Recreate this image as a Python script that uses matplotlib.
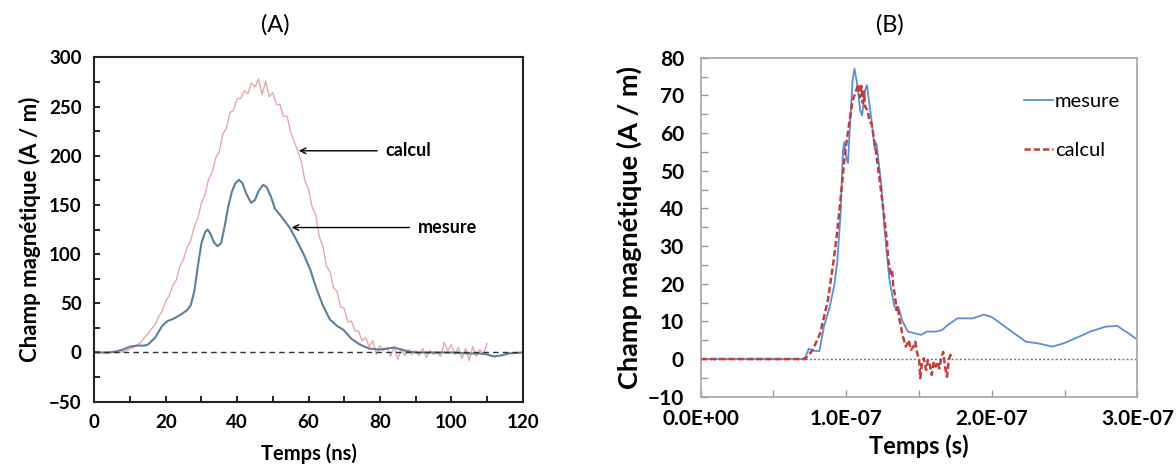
import numpy as np
from matplotlib import pyplot as plt
from matplotlib.ticker import MultipleLocator

plt.rcParams["font.family"] = ["Lato", "DejaVu Sans"]

# ---- panel A data (ns, A/m)
a_t_mesure = [0, 4, 6, 8, 10, 12, 14, 15, 17, 19, 20.5, 22, 24, 26, 27, 28,
              29, 30, 31, 31.7, 32.5, 33.5, 34.5, 35.5, 36.5, 37.5, 38.5, 39.5,
              40.5, 41.5, 42.5, 43.9, 45, 46, 47.3, 48.3, 49.5, 50.6, 52,
              54.8, 56.5, 58.5, 60.5, 62.3, 64, 66, 68, 69.8, 72, 74, 75.4,
              77, 80, 82, 84, 86, 88, 90, 95, 100, 105, 108, 110, 112, 114,
              116, 120]
a_v_mesure = [0, 0, 1, 3, 6, 7, 7, 8, 15, 27, 32, 34, 38, 43, 48, 62,
              88, 111, 122, 125, 121, 112, 108, 111, 128, 148, 163, 172,
              175.5, 172, 162, 152, 155, 164, 170.5, 168, 158, 146, 140,
              126.5, 115, 101, 84, 64, 48, 33.5, 27, 23, 14, 9, 6.4,
              4, 3, 4, 5, 3, 1, 0, 0, 0, -1, -1, -2, -4, -3, -1, 0]

a_t_calcul = list(range(0, 111))
a_v_calcul = [0, 0, 0, 0, 0, 0, 0, 0, 1, 2,
              4, 5, 8, 10, 15, 19, 24, 28, 36, 42,
              52, 58, 68, 74, 88, 95, 107, 114, 128, 136,
              152, 160, 176, 183, 198, 204, 222, 228, 244, 246,
              258, 258, 266, 263, 274, 270, 278, 262, 276, 260,
              264, 252, 252, 240, 240, 224, 214, 205, 194, 174,
              166, 148, 140, 118, 108, 88, 82, 66, 62, 46,
              45, 31, 32, 22, 22, 12, 15, 6, 12, -2,
              7, 2, 5, -4, 6, -7, 4, -3, 3, -2,
              2, -3, 4, -5, 2, -2, 1, -4, 10, 2,
              8, -2, 5, -6, 4, -8, 6, -4, 3, -2,
              9]

# ---- panel B data (time in units of 1e-7 s, A/m)
b_t_mesure = [0, 0.5, 0.7, 0.72, 0.743, 0.77, 0.816, 0.847, 0.887, 0.92,
              0.939, 0.96, 0.978, 0.986, 0.999, 1.012, 1.025, 1.044, 1.057,
              1.075, 1.096, 1.109, 1.13, 1.143, 1.156, 1.174, 1.195, 1.208,
              1.24, 1.266, 1.297, 1.331, 1.357, 1.384, 1.423, 1.475, 1.514,
              1.554, 1.619, 1.658, 1.698, 1.763, 1.868, 1.946, 1.998, 2.077,
              2.155, 2.234, 2.312, 2.417, 2.495, 2.574, 2.678, 2.783, 2.862,
              2.94, 3.0]
b_v_mesure = [0, 0, 0, 0.5, 2.8, 2.2, 2.1, 8.6, 13.9, 20,
              26, 37.8, 55.5, 57.6, 53.8, 52, 61.6, 74, 77.1,
              73, 66, 64.7, 71.4, 72.7, 68.7, 63.4, 55.9, 57.2,
              46.6, 33.3, 21, 13.9, 13.9, 10.3, 7.3, 6.8, 6.4,
              7.3, 7.3, 7.7, 9, 10.8, 10.8, 11.8, 11.2, 9,
              6.8, 4.6, 4.2, 3.3, 4.2, 5.5, 7.3, 8.6, 8.8,
              6.8, 5.2]

b_t_calcul = [0, 0.6, 0.717, 0.77, 0.821, 0.874, 0.913, 0.939, 0.965, 0.991,
              1.017, 1.044, 1.07, 1.083, 1.096, 1.104, 1.114, 1.122, 1.13,
              1.148, 1.16, 1.174, 1.2, 1.227, 1.253, 1.279, 1.29, 1.305,
              1.315, 1.324, 1.335, 1.345, 1.356, 1.366, 1.375, 1.384, 1.397,
              1.41, 1.43, 1.444, 1.462, 1.475, 1.488, 1.501, 1.509, 1.52,
              1.533, 1.549, 1.561, 1.575, 1.588, 1.601, 1.614, 1.627, 1.64,
              1.653, 1.666, 1.679, 1.692, 1.705, 1.716, 1.729]
b_v_calcul = [0, 0, 0, 2.4, 6.8, 15.6, 26, 34, 44, 54.5,
              61.6, 68.7, 71.4, 73, 69.5, 72.5, 68, 71, 67,
              66, 63, 62.5, 56.3, 48.4, 40.4, 31.6, 26, 22.7,
              23.5, 19, 17, 13, 14, 10.5, 9, 6.8, 5,
              3.3, 5, 2.4, 3.3, 4.6, 1.5, -0.3, -5.1, -1.1,
              0.2, -2.9, -0.3, -1.6, -4.2, -0.7, -2, -0.7, -2.5,
              0.2, 1.9, -2, -4.7, -0.3, 1.1, 0.2]

fig = plt.figure(figsize=(11.76, 4.66), dpi=100)

# ================= panel A
axA = fig.add_axes([0.0802, 0.138, 0.3643, 0.739])
axA.plot(a_t_calcul, a_v_calcul, color="#e8a8a8", lw=1.0)
axA.plot(a_t_mesure, a_v_mesure, color="#5d7f99", lw=1.5)
axA.axhline(0, color="#333333", lw=1.0, ls=(0, (4, 3)))
axA.set_xlim(0, 120)
axA.set_ylim(-50, 300)
axA.xaxis.set_major_locator(MultipleLocator(20))
axA.xaxis.set_minor_locator(MultipleLocator(10))
axA.yaxis.set_major_locator(MultipleLocator(50))
axA.yaxis.set_minor_locator(MultipleLocator(25))
axA.tick_params(which="both", direction="in", length=4, width=1.2,
                top=False, right=False)
axA.tick_params(axis="both", which="major", labelsize=13.5, pad=9)
for lab in axA.get_xticklabels() + axA.get_yticklabels():
    lab.set_fontweight("bold")
for sp in axA.spines.values():
    sp.set_linewidth(1.5)
    sp.set_color("#222222")
axA.set_xlabel("Temps (ns)", fontsize=14.5, fontweight="bold", labelpad=9)
axA.set_ylabel("Champ magnétique (A / m)", fontsize=16, fontweight="bold",
               labelpad=6)

axA.annotate("", xy=(56.5, 205), xytext=(80, 205),
             arrowprops=dict(arrowstyle="->", color="black", lw=1.0))
axA.text(81.5, 205, "calcul", fontsize=13, fontweight="bold", va="center")
axA.annotate("", xy=(54.5, 127), xytext=(89, 127),
             arrowprops=dict(arrowstyle="->", color="black", lw=1.0))
axA.text(90.5, 127, "mesure", fontsize=13, fontweight="bold", va="center")

fig.text(0.234, 0.946, "(A)", fontsize=17, ha="center", va="center")

# ================= panel B
axB = fig.add_axes([0.5958, 0.1487, 0.3713, 0.7275])
t_m = np.array(b_t_mesure) * 1e-7
t_c = np.array(b_t_calcul) * 1e-7
axB.axhline(0, color="#777777", lw=1.0, ls=(0, (1.5, 1.5)))
axB.plot(t_m, b_v_mesure, color="#5b8fd2", lw=1.3, label="mesure")
axB.plot(t_c, b_v_calcul, color="#c63c3c", lw=1.8, ls=(0, (2.5, 1.2)),
         label="calcul")
axB.set_xlim(0, 3e-7)
axB.set_ylim(-10, 80)
axB.xaxis.set_major_locator(MultipleLocator(1e-7))
axB.xaxis.set_minor_locator(MultipleLocator(0.5e-7))
axB.yaxis.set_major_locator(MultipleLocator(10))
axB.yaxis.set_minor_locator(MultipleLocator(5))
axB.set_xticks([0, 1e-7, 2e-7, 3e-7])
axB.set_xticklabels(["0.0E+00", "1.0E-07", "2.0E-07", "3.0E-07"])
axB.tick_params(which="both", direction="in", length=5, width=1.0,
                color="#999999", top=False, right=False)
axB.tick_params(axis="x", which="major", labelsize=15, pad=9)
axB.tick_params(axis="y", which="major", labelsize=15, pad=12)
for lab in axB.get_xticklabels() + axB.get_yticklabels():
    lab.set_fontweight("bold")
for sp in axB.spines.values():
    sp.set_linewidth(1.2)
    sp.set_color("#a6a6a6")
axB.set_xlabel("Temps (s)", fontsize=17, fontweight="bold", labelpad=4)
axB.set_ylabel("Champ magnétique (A / m)", fontsize=19.5, fontweight="bold",
               labelpad=4)
axB.legend(loc="upper left", bbox_to_anchor=(0.7, 0.95), frameon=False,
           fontsize=14.5, handlelength=1.4, handletextpad=0.1,
           labelspacing=1.6)

fig.text(0.757, 0.946, "(B)", fontsize=17, ha="center", va="center")

fig.savefig("out.png", dpi=100)
